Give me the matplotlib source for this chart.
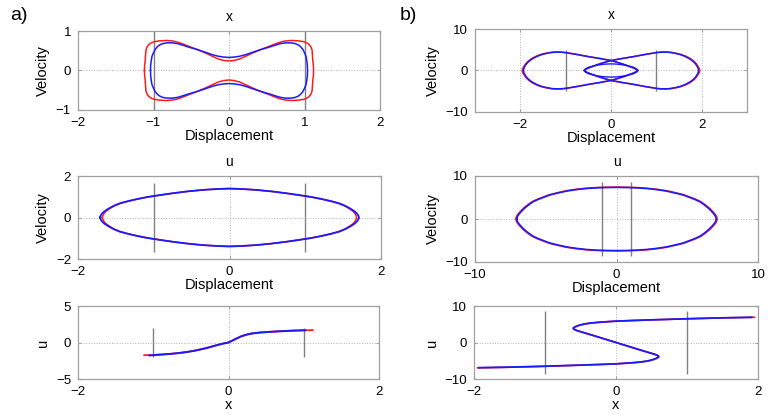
import numpy as np
import matplotlib.pyplot as plt

plt.rcParams['font.family'] = ['Liberation Sans', 'DejaVu Sans']

# ---- data ----
# a) x-plane: upper-left quarter of the closed curves (mirrored for the rest)
ax_red_qx = [-1.12, -1.118, -1.11, -1.105, -1.10, -1.085, -1.06, -1.03, -0.99, -0.92, -0.83,
             -0.76, -0.70, -0.62, -0.53, -0.42, -0.31, -0.22, -0.14, -0.07, 0.0]
ax_red_qy = [0.0, 0.12, 0.25, 0.40, 0.52, 0.60, 0.66, 0.70, 0.73, 0.75, 0.76,
             0.75, 0.73, 0.68, 0.61, 0.53, 0.44, 0.36, 0.29, 0.255, 0.24]
ax_blue_qx = [-1.04, -1.038, -1.03, -1.02, -1.00, -0.98, -0.95, -0.92, -0.88, -0.82,
              -0.75, -0.68, -0.61, -0.53, -0.42, -0.31, -0.22, -0.14, -0.07, 0.0]
ax_blue_qy = [0.0, 0.12, 0.25, 0.36, 0.45, 0.53, 0.60, 0.645, 0.68, 0.70,
              0.70, 0.68, 0.64, 0.59, 0.53, 0.46, 0.40, 0.36, 0.34, 0.33]

# a) u-plane
au_red_qx = [-1.68, -1.67, -1.655, -1.63, -1.585, -1.52, -1.44, -1.34, -1.21, -1.07,
             -0.91, -0.74, -0.55, -0.35, -0.15, 0.0]
au_red_qy = [0.0, 0.1, 0.2, 0.3, 0.42, 0.56, 0.68, 0.78, 0.89, 0.99,
             1.08, 1.17, 1.26, 1.33, 1.38, 1.40]
au_blue_qx = [-1.71, -1.70, -1.68, -1.65, -1.60, -1.53, -1.45, -1.35, -1.22, -1.08,
              -0.92, -0.75, -0.55, -0.35, -0.15, 0.0]
au_blue_qy = [0.0, 0.1, 0.2, 0.3, 0.42, 0.56, 0.68, 0.78, 0.89, 0.99,
              1.08, 1.17, 1.26, 1.33, 1.375, 1.39]

# a) x-u curve
axu_red_x = [-1.12, -1.0, -0.9, -0.78, -0.67, -0.56, -0.45, -0.33, -0.24, -0.16, -0.08, 0.0,
             0.05, 0.11, 0.17, 0.24, 0.32, 0.42, 0.53, 0.64, 0.75, 0.87, 1.0, 1.12]
axu_red_y = [-1.74, -1.70, -1.65, -1.56, -1.45, -1.30, -1.11, -0.84, -0.60, -0.37, -0.16, 0.0,
             0.27, 0.58, 0.87, 1.10, 1.27, 1.38, 1.46, 1.52, 1.58, 1.63, 1.67, 1.70]
axu_blue_x = [-1.05, -0.9, -0.78, -0.67, -0.56, -0.45, -0.33, -0.24, -0.16, -0.08, 0.0,
              0.05, 0.11, 0.17, 0.24, 0.32, 0.42, 0.53, 0.64, 0.75, 0.87, 1.02]
axu_blue_y = [-1.78, -1.66, -1.57, -1.46, -1.32, -1.13, -0.86, -0.62, -0.38, -0.17, 0.0,
              0.25, 0.55, 0.84, 1.07, 1.24, 1.36, 1.44, 1.51, 1.57, 1.63, 1.68]

# b) x-plane: upper half of the right loop (left loop is its mirror) and inner loop
bx_red_hx = [-0.59, -0.56, -0.5, -0.41, -0.31, -0.16, 0.0, 0.25, 0.5, 0.75, 1.0, 1.1, 1.2,
             1.31, 1.43, 1.54, 1.64, 1.74, 1.82, 1.88, 1.92, 1.95, 1.96]
bx_red_hy = [0.0, 0.3, 0.6, 0.97, 1.37, 1.9, 2.4, 2.9, 3.35, 3.87, 4.33, 4.45, 4.48,
             4.41, 4.18, 3.9, 3.5, 2.95, 2.33, 1.67, 1.0, 0.45, 0.0]
bx_blue_hx = [-0.59, -0.56, -0.5, -0.41, -0.31, -0.16, 0.0, 0.25, 0.5, 0.75, 1.0, 1.1, 1.2,
              1.3, 1.42, 1.52, 1.62, 1.72, 1.8, 1.86, 1.9, 1.925, 1.93]
bx_blue_hy = [0.0, 0.3, 0.6, 0.97, 1.37, 1.9, 2.4, 2.9, 3.35, 3.85, 4.3, 4.4, 4.42,
              4.35, 4.12, 3.85, 3.45, 2.9, 2.3, 1.65, 1.0, 0.45, 0.0]
bx_inner_hx = [-0.59, -0.57, -0.5, -0.4, -0.3, -0.15, 0.0, 0.15, 0.3, 0.4, 0.5, 0.57, 0.59]
bx_inner_hy = [0.0, 0.3, 0.75, 1.05, 1.3, 1.52, 1.6, 1.52, 1.3, 1.05, 0.75, 0.3, 0.0]

# b) u-plane
bu_red_qx = [-7.12, -7.07, -6.97, -6.81, -6.57, -6.27, -5.96, -5.56, -5.15, -4.76, -4.24,
             -3.56, -2.83, -2.12, -1.41, -0.71, 0.0]
bu_red_qy = [0.0, 0.6, 1.1, 1.72, 2.53, 3.33, 4.04, 4.65, 5.15, 5.64, 6.06,
             6.57, 6.92, 7.17, 7.32, 7.39, 7.42]
bu_blue_qx = [-7.05, -7.0, -6.9, -6.74, -6.5, -6.2, -5.9, -5.5, -5.1, -4.71, -4.2,
              -3.52, -2.8, -2.1, -1.4, -0.7, 0.0]
bu_blue_qy = [0.0, 0.6, 1.1, 1.7, 2.5, 3.3, 4.0, 4.6, 5.1, 5.58, 6.0,
              6.5, 6.85, 7.1, 7.25, 7.32, 7.35]

# b) x-u curve
bxu_red_x = [-1.95, -1.5, -1.0, -0.5, -0.2, 0.0, 0.2, 0.35, 0.45, 0.52, 0.57, 0.6, 0.6, 0.58,
             0.54, 0.47, 0.35, 0.2, 0.0, -0.2, -0.35, -0.47, -0.54, -0.58, -0.6, -0.6, -0.57,
             -0.52, -0.45, -0.35, -0.2, 0.0, 0.2, 0.5, 1.0, 1.5, 1.95]
bxu_red_y = [-6.95, -6.78, -6.52, -6.2, -6.0, -5.85, -5.6, -5.35, -5.05, -4.7, -4.35, -4.0,
             -3.75, -3.5, -3.2, -2.8, -2.1, -1.2, 0.0, 1.2, 2.1, 2.8, 3.2, 3.5, 3.75, 4.0,
             4.35, 4.7, 5.05, 5.35, 5.6, 5.85, 6.0, 6.2, 6.5, 6.75, 6.92]
bxu_blue_x = [-1.93, -1.5, -1.0, -0.5, -0.2, 0.0, 0.2, 0.35, 0.45, 0.52, 0.57, 0.6, 0.6, 0.58,
              0.54, 0.47, 0.35, 0.2, 0.0, -0.2, -0.35, -0.47, -0.54, -0.58, -0.6, -0.6, -0.57,
              -0.52, -0.45, -0.35, -0.2, 0.0, 0.2, 0.5, 1.0, 1.5, 1.91]
bxu_blue_y = [-6.9, -6.75, -6.5, -6.2, -6.0, -5.85, -5.6, -5.35, -5.05, -4.7, -4.35, -4.0,
              -3.75, -3.5, -3.2, -2.8, -2.1, -1.2, 0.0, 1.2, 2.1, 2.8, 3.2, 3.5, 3.75, 4.0,
              4.35, 4.7, 5.05, 5.35, 5.6, 5.85, 6.0, 6.2, 6.5, 6.75, 6.9]

# vertical reference lines (x = -1, 1) and their half heights per panel
ref_x = [-1, 1]
ref_h = {'ax': 1.0, 'au': 1.68, 'axu': 2.0, 'bx': 5.0, 'bu': 8.7, 'bxu': 8.5}


def quad_to_loop(qx, qy):
    # upper-left quarter -> closed, symmetric loop
    qx, qy = np.asarray(qx), np.asarray(qy)
    ux = np.concatenate([qx, -qx[::-1][1:]])
    uy = np.concatenate([qy, qy[::-1][1:]])
    return np.concatenate([ux, ux[::-1][1:]]), np.concatenate([uy, -uy[::-1][1:]])


def half_to_loop(hx, hy):
    hx, hy = np.asarray(hx), np.asarray(hy)
    return np.concatenate([hx, hx[::-1][1:]]), np.concatenate([hy, -hy[::-1][1:]])


RED, BLUE, GRAY = '#ff1a1a', '#1a1aff', '#808080'

fig = plt.figure(figsize=(7.68, 4.15), dpi=100)
W, H = 768, 415


def make_ax(l, r, t, b):
    return fig.add_axes([l / W, 1 - b / H, (r - l) / W, (b - t) / H])


def style(ax, xlim, ylim, xticks, yticks, xlabel, ylabel, title=None, key=None):
    ax.set_xlim(xlim)
    ax.set_ylim(ylim)
    ax.set_xticks(xticks)
    ax.set_yticks(yticks)
    ax.grid(True, linestyle=':', color='#b0b0b0', linewidth=0.7)
    ax.set_axisbelow(True)
    for s in ax.spines.values():
        s.set_color('#a0a0a0')
        s.set_linewidth(0.9)
    ax.tick_params(direction='in', length=2.5, color='#a0a0a0', labelsize=9.5,
                   top=True, right=True)
    ax.tick_params(axis='x', pad=5)
    ax.tick_params(axis='y', pad=5)
    ax.set_xlabel(xlabel, fontsize=10.5, labelpad=0)
    ax.set_ylabel(ylabel, fontsize=10.5, labelpad=4)
    if title:
        ax.set_title(title, fontsize=10, pad=7)
    h = ref_h[key]
    ax.vlines(ref_x, -h, h, color=GRAY, linewidth=1.0, zorder=2)


# ---- a) x ----
ax1 = make_ax(78, 380, 31, 110)
style(ax1, (-2, 2), (-1, 1), [-2, -1, 0, 1, 2], [-1, 0, 1], 'Displacement', 'Velocity', 'x', 'ax')
ax1.plot(*quad_to_loop(ax_red_qx, ax_red_qy), color=RED, lw=1.1, zorder=3)
ax1.plot(*quad_to_loop(ax_blue_qx, ax_blue_qy), color=BLUE, lw=1.1, zorder=4)

# ---- b) x ----
ax2 = make_ax(475, 747, 29, 112)
style(ax2, (-3, 3), (-10, 10), [-2, 0, 2], [-10, 0, 10], 'Displacement', 'Velocity', 'x', 'bx')
rx, ry = half_to_loop(bx_red_hx, bx_red_hy)
ax2.plot(rx, ry, color=RED, lw=1.1, zorder=3)
ax2.plot(-rx, ry, color=RED, lw=1.1, zorder=3)
bx, by = half_to_loop(bx_blue_hx, bx_blue_hy)
ax2.plot(bx, by, color=BLUE, lw=1.1, zorder=4)
ax2.plot(-bx, by, color=BLUE, lw=1.1, zorder=4)
ax2.plot(*half_to_loop(bx_inner_hx, bx_inner_hy), color=BLUE, lw=1.0, zorder=4)

# ---- a) u ----
ax3 = make_ax(78, 381, 176, 259)
style(ax3, (-2, 2), (-2, 2), [-2, 0, 2], [-2, 0, 2], 'Displacement', 'Velocity', 'u', 'au')
ax3.plot(*quad_to_loop(au_red_qx, au_red_qy), color=RED, lw=1.1, zorder=3)
ax3.plot(*quad_to_loop(au_blue_qx, au_blue_qy), color=BLUE, lw=1.3, zorder=4)

# ---- b) u ----
ax4 = make_ax(475, 758, 176, 262)
style(ax4, (-10, 10), (-10, 10), [-10, 0, 10], [-10, 0, 10], 'Displacement', 'Velocity', 'u', 'bu')
ax4.plot(*quad_to_loop(bu_red_qx, bu_red_qy), color=RED, lw=1.1, zorder=3)
ax4.plot(*quad_to_loop(bu_blue_qx, bu_blue_qy), color=BLUE, lw=1.2, zorder=4)

# ---- a) x-u ----
ax5 = make_ax(78, 379, 306, 379)
style(ax5, (-2, 2), (-5, 5), [-2, 0, 2], [-5, 0, 5], 'x', 'u', None, 'axu')
ax5.plot(axu_red_x, axu_red_y, color=RED, lw=1.3, zorder=3)
ax5.plot(axu_blue_x, axu_blue_y, color=BLUE, lw=1.4, zorder=4)

# ---- b) x-u ----
ax6 = make_ax(474, 758, 306, 379)
style(ax6, (-2, 2), (-10, 10), [-2, 0, 2], [-10, 0, 10], 'x', 'u', None, 'bxu')
ax6.plot(bxu_red_x, bxu_red_y, color=RED, lw=1.2, zorder=3)
ax6.plot(bxu_blue_x, bxu_blue_y, color=BLUE, lw=1.3, zorder=4)

fig.text(10 / W, 1 - 15 / H, 'a)', fontsize=14, va='center', ha='left')
fig.text(400 / W, 1 - 15 / H, 'b)', fontsize=14, va='center', ha='left')

fig.savefig('out.png', dpi=100)
